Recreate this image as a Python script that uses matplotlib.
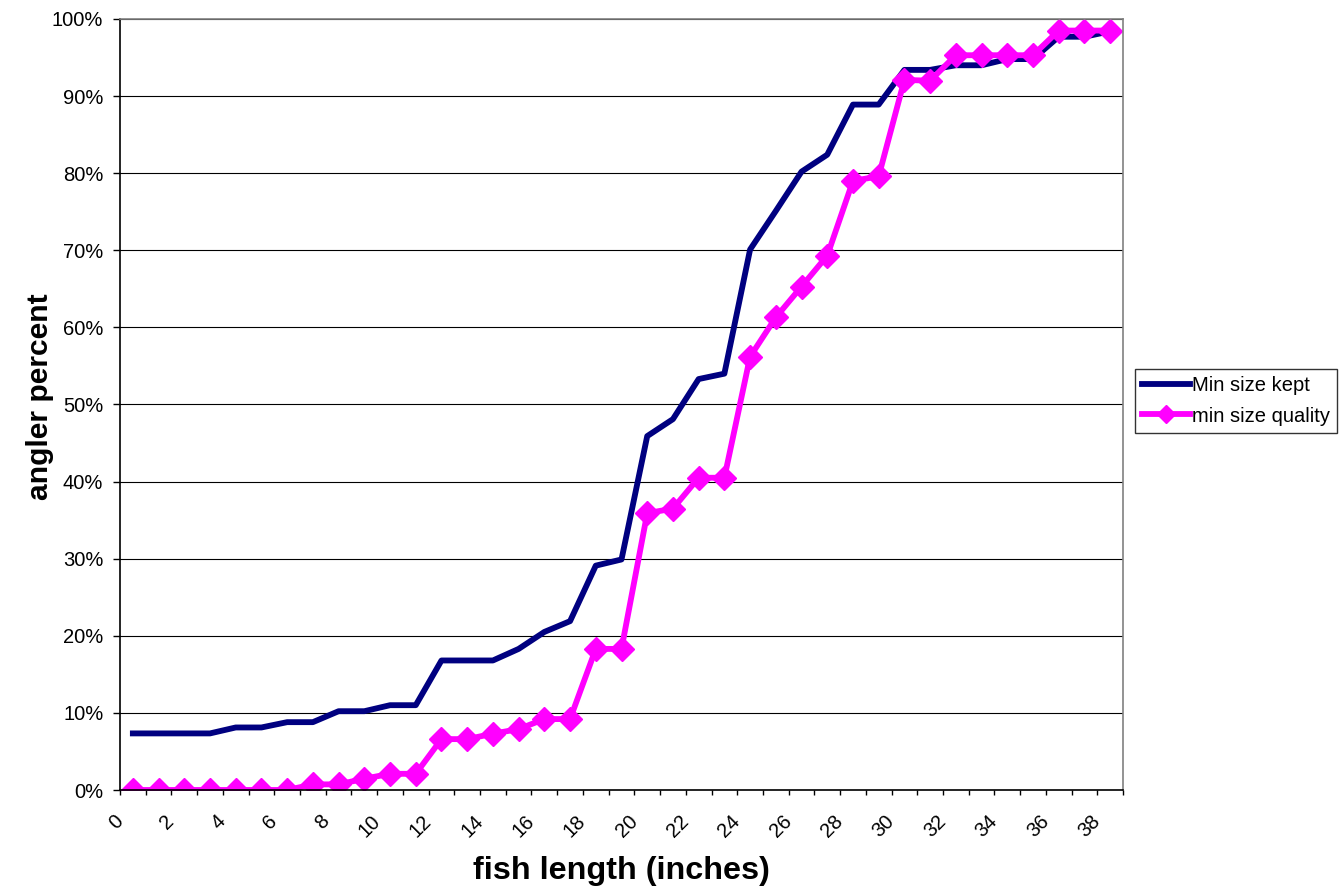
import numpy as np
import matplotlib
matplotlib.use("Agg")
import matplotlib.pyplot as plt

plt.rcParams["font.family"] = ["Liberation Sans", "DejaVu Sans"]

# fish length categories (inches) and cumulative angler percentages
lengths = list(range(39))
min_size_kept = [7.34, 7.34, 7.34, 7.34, 8.11, 8.11, 8.80, 8.80, 10.22, 10.22,
                 11.0, 11.0, 16.8, 16.8, 16.8, 18.3, 20.5, 21.9, 29.1, 29.9,
                 45.9, 48.1, 53.3, 54.0, 70.1, 75.1, 80.2, 82.4, 88.9, 88.9,
                 93.4, 93.4, 94.0, 94.0, 94.8, 94.8, 97.7, 97.7, 98.4]
min_size_quality = [0, 0, 0, 0, 0, 0, 0, 0.73, 0.73, 1.46,
                    2.1, 2.1, 6.6, 6.6, 7.3, 7.9, 9.2, 9.2, 18.3, 18.3,
                    35.9, 36.5, 40.5, 40.5, 56.2, 61.3, 65.3, 69.3, 79.0, 79.6,
                    92.1, 92.0, 95.3, 95.3, 95.3, 95.3, 98.5, 98.5, 98.5]
y_ticks = list(range(0, 101, 10))

fig = plt.figure(figsize=(13.44, 8.88), dpi=100)
ax = fig.add_axes([120 / 1344, 1 - 790 / 888, 1003 / 1344, 771 / 888])

xs = np.arange(len(lengths)) + 0.5
ax.plot(xs, min_size_kept, "-", color="#000080", lw=4.2, label="Min size kept")
ax.plot(xs, min_size_quality, "-D", color="#FF00FF", lw=4.2, ms=12.5,
        mec="#FF00FF", label="min size quality")

ax.set_xlim(0, len(lengths))
ax.set_ylim(0, 100)
ax.set_yticks(y_ticks)
ax.set_yticklabels([f"{v}%" for v in y_ticks], fontsize=14.5)
ax.set_xticks(range(0, len(lengths) + 1), minor=True)
ax.set_xticks(lengths[::2])
ax.set_xticklabels([str(v) for v in lengths[::2]], fontsize=14.5, rotation=45,
                   rotation_mode="anchor", ha="right", va="center")
ax.tick_params(axis="x", which="both", direction="out", length=3.6, width=1,
               color="black")
ax.tick_params(axis="x", which="major", pad=16.5)
ax.tick_params(axis="y", direction="out", length=5, width=1, pad=7, color="black")

ax.grid(axis="y", color="black", lw=0.8)
ax.set_axisbelow(True)
for side in ("left", "bottom"):
    ax.spines[side].set_color("black")
    ax.spines[side].set_linewidth(1.2)
for side in ("top", "right"):
    ax.spines[side].set_color("#808080")
    ax.spines[side].set_linewidth(1.2)

fig.text(621 / 1344, 1 - 879 / 888, "fish length (inches)", fontsize=23.3,
         fontweight="bold", ha="center", va="baseline")
fig.text(48 / 1344, 1 - 396.5 / 888, "angler percent", fontsize=21.6,
         fontweight="bold", rotation=90, rotation_mode="anchor",
         ha="center", va="baseline")

leg = fig.legend(loc="center left", bbox_to_anchor=(1135 / 1344, 1 - 401 / 888),
                 fontsize=14.5, frameon=True, fancybox=False, edgecolor="black",
                 handlelength=2.4, handletextpad=0.1, borderpad=0.35,
                 labelspacing=0.55, borderaxespad=0, markerscale=0.7)
leg.get_frame().set_linewidth(1)

fig.savefig("out.png", dpi=100, facecolor="white")
